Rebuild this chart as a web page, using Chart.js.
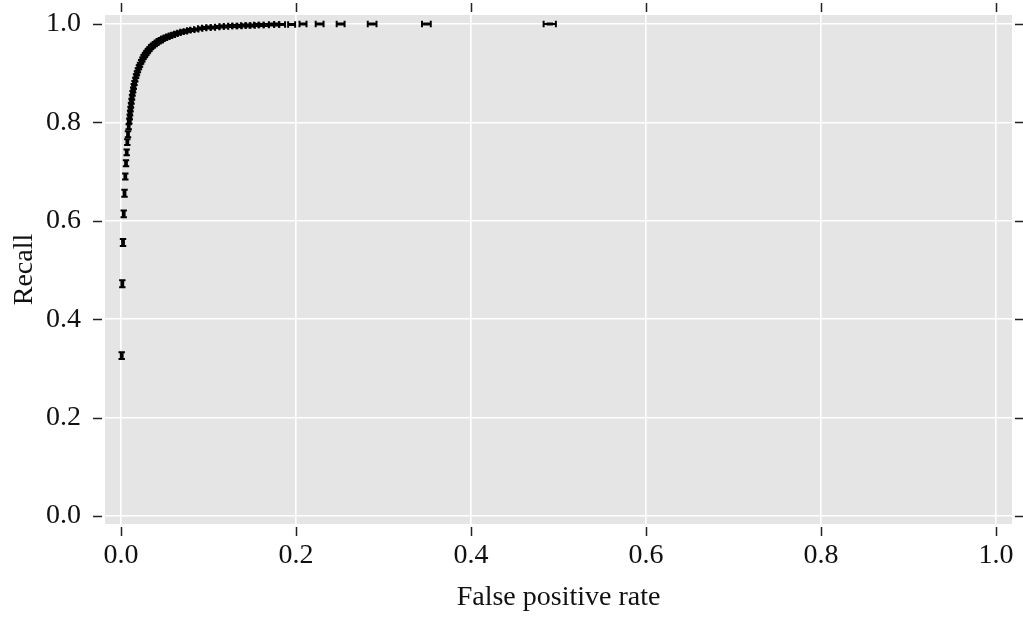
<!DOCTYPE html>
<html>
<head>
<meta charset="utf-8">
<script src="https://cdn.jsdelivr.net/npm/chart.js@4"></script>
<style>
  html, body { margin: 0; padding: 0; background: #fff; }
</style>
</head>
<body>
<canvas id="roc" width="1023" height="619"></canvas>
<script>
// tick labels
const xTicks = [0, 0.2, 0.4, 0.6, 0.8, 1.0];
const yTicks = [0, 0.2, 0.4, 0.6, 0.8, 1.0];

// ROC points (false positive rate, recall)
const fpr = [
  0.0008, 0.0015, 0.0023, 0.0031, 0.0040, 0.0049, 0.0057, 0.0065, 0.0072, 0.0080, 0.0088,
  0.0095, 0.0100, 0.0104, 0.0109, 0.0114, 0.0120, 0.0126, 0.0132, 0.0139, 0.0146,
  0.0154, 0.0163, 0.0172, 0.0182, 0.0193, 0.0205, 0.0217, 0.0230, 0.0244, 0.0258,
  0.0274, 0.0290, 0.0307, 0.0325, 0.0344, 0.0364, 0.0385, 0.0407, 0.0430, 0.0455,
  0.0480, 0.0507, 0.0535, 0.0565, 0.0596, 0.0628, 0.0662, 0.0698, 0.0735, 0.0775,
  0.0815, 0.0860, 0.0905, 0.0950, 0.1000, 0.1050, 0.1100, 0.1150, 0.1200, 0.1250,
  0.1300, 0.1350, 0.1400, 0.1450, 0.1500, 0.1550, 0.1600, 0.1660, 0.1720, 0.1780,
  0.1840, 0.1950, 0.2080, 0.2270, 0.2510, 0.2870, 0.3490, 0.4900
];
const recall = [
  0.326, 0.472, 0.556, 0.614, 0.656, 0.690, 0.717, 0.739, 0.760, 0.776, 0.791,
  0.803, 0.811, 0.819, 0.827, 0.835, 0.843, 0.851, 0.859, 0.866, 0.873,
  0.880, 0.887, 0.894, 0.900, 0.906, 0.912, 0.917, 0.923, 0.928, 0.933,
  0.937, 0.941, 0.945, 0.949, 0.953, 0.956, 0.959, 0.962, 0.965, 0.967,
  0.970, 0.972, 0.974, 0.976, 0.978, 0.980, 0.982, 0.984, 0.985, 0.987,
  0.988, 0.989, 0.991, 0.992, 0.993, 0.993, 0.994, 0.995, 0.995, 0.996,
  0.996, 0.996, 0.997, 0.997, 0.997, 0.998, 0.998, 0.998, 0.999, 0.999,
  0.999, 0.999, 1.000, 1.000, 1.000, 1.000, 1.000, 1.000
];
// half widths of the error bars
const fprErr = [
  0.001, 0.001, 0.001, 0.001, 0.001, 0.001, 0.001, 0.001, 0.001, 0.001, 0.001,
  0.0015, 0.0015, 0.0015, 0.0015, 0.0015, 0.0015, 0.0015, 0.0015, 0.0015, 0.0015,
  0.0015, 0.0015, 0.0015, 0.0015, 0.0015, 0.0015, 0.0015, 0.0015, 0.0015, 0.0015,
  0.002, 0.002, 0.002, 0.002, 0.002, 0.002, 0.002, 0.002, 0.002, 0.002,
  0.002, 0.002, 0.002, 0.002, 0.002, 0.002, 0.002, 0.002, 0.002, 0.002,
  0.0025, 0.0025, 0.0025, 0.0025, 0.0025, 0.0025, 0.0025, 0.0025, 0.0025, 0.0025,
  0.003, 0.003, 0.003, 0.003, 0.003, 0.003, 0.003, 0.003, 0.003, 0.003,
  0.0035, 0.004, 0.004, 0.0045, 0.0045, 0.005, 0.005, 0.007
];
const recallErr = [
  0.007, 0.007, 0.007, 0.007, 0.007, 0.006, 0.006, 0.006, 0.006, 0.006, 0.005,
  0.005, 0.005, 0.005, 0.005, 0.005, 0.005, 0.005, 0.005, 0.005, 0.005,
  0.004, 0.004, 0.004, 0.004, 0.004, 0.004, 0.004, 0.004, 0.004, 0.004,
  0.004, 0.004, 0.004, 0.004, 0.004, 0.004, 0.004, 0.004, 0.004, 0.004,
  0.003, 0.003, 0.003, 0.003, 0.003, 0.003, 0.003, 0.003, 0.003, 0.003,
  0.002, 0.002, 0.002, 0.002, 0.002, 0.002, 0.002, 0.002, 0.002, 0.002,
  0.002, 0.002, 0.002, 0.002, 0.002, 0.002, 0.002, 0.002, 0.002, 0.002,
  0.001, 0.001, 0.001, 0.001, 0.001, 0.001, 0.001, 0.001
];

Chart.defaults.font.family = "'Liberation Serif', 'DejaVu Serif', serif";
Chart.defaults.font.size = 28;
Chart.defaults.color = '#111';

const points = fpr.map((v, i) => ({ x: v, y: recall[i], ex: fprErr[i], ey: recallErr[i] }));

// grey panel behind the data
const panelBg = {
  id: 'panelBg',
  beforeDraw(chart) {
    const { ctx, chartArea: a } = chart;
    ctx.save();
    ctx.fillStyle = '#e5e5e5';
    ctx.fillRect(a.left, a.top, a.right - a.left, a.bottom - a.top);
    ctx.restore();
  }
};

// each point is drawn as a horizontal + vertical error bar with caps
const errorBars = {
  id: 'errorBars',
  afterDatasetsDraw(chart) {
    const { ctx } = chart;
    const xs = chart.scales.x, ys = chart.scales.y;
    const cap = 3.2;
    ctx.save();
    ctx.strokeStyle = '#000';
    ctx.lineWidth = 2;
    chart.data.datasets[0].data.forEach(p => {
      const cx = xs.getPixelForValue(p.x), cy = ys.getPixelForValue(p.y);
      const x0 = xs.getPixelForValue(p.x - p.ex), x1 = xs.getPixelForValue(p.x + p.ex);
      const y0 = ys.getPixelForValue(p.y - p.ey), y1 = ys.getPixelForValue(p.y + p.ey);
      ctx.beginPath();
      ctx.moveTo(x0, cy); ctx.lineTo(x1, cy);
      ctx.moveTo(x0, cy - cap); ctx.lineTo(x0, cy + cap);
      ctx.moveTo(x1, cy - cap); ctx.lineTo(x1, cy + cap);
      ctx.moveTo(cx, y0); ctx.lineTo(cx, y1);
      ctx.moveTo(cx - cap, y0); ctx.lineTo(cx + cap, y0);
      ctx.moveTo(cx - cap, y1); ctx.lineTo(cx + cap, y1);
      ctx.stroke();
    });
    ctx.restore();
  }
};

// tick marks on all four sides, set off a little from the panel
const outerTicks = {
  id: 'outerTicks',
  afterDraw(chart) {
    const { ctx, chartArea: a } = chart;
    const xs = chart.scales.x, ys = chart.scales.y;
    ctx.save();
    ctx.strokeStyle = '#222';
    ctx.lineWidth = 1.5;
    ctx.beginPath();
    xTicks.forEach(v => {
      const px = Math.round(xs.getPixelForValue(v)) + 0.5;
      ctx.moveTo(px, a.bottom + 3); ctx.lineTo(px, a.bottom + 12);
      ctx.moveTo(px, a.top - 3); ctx.lineTo(px, a.top - 12);
    });
    yTicks.forEach(v => {
      const py = Math.round(ys.getPixelForValue(v)) + 0.5;
      ctx.moveTo(a.left - 3, py); ctx.lineTo(a.left - 12, py);
      ctx.moveTo(a.right + 3, py); ctx.lineTo(a.right + 11, py);
    });
    ctx.stroke();
    ctx.restore();
  }
};

new Chart(document.getElementById('roc'), {
  type: 'scatter',
  data: {
    datasets: [{
      data: points,
      pointRadius: 0,
      pointHoverRadius: 0,
      borderColor: '#000',
      backgroundColor: '#000'
    }]
  },
  options: {
    responsive: false,
    animation: false,
    devicePixelRatio: 1,
    layout: { padding: { top: 15, right: 11, left: 0, bottom: 0 } },
    plugins: {
      legend: { display: false },
      tooltip: { enabled: false }
    },
    scales: {
      x: {
        type: 'linear',
        min: -0.0183,
        max: 1.0183,
        afterBuildTicks: s => { s.ticks = xTicks.map(v => ({ value: v })); },
        afterFit: s => { s.height = 95; s.paddingLeft = 0; s.paddingRight = 0; },
        ticks: { callback: v => v.toFixed(1), padding: 15, maxRotation: 0, autoSkip: false },
        grid: { color: '#fff', lineWidth: 1.6, drawTicks: false },
        border: { display: false },
        title: { display: true, text: 'False positive rate', padding: { top: 0, bottom: 5 } }
      },
      y: {
        type: 'linear',
        min: -0.0163,
        max: 1.0183,
        afterBuildTicks: s => { s.ticks = yTicks.map(v => ({ value: v })); },
        afterFit: s => { s.width = 105; s.paddingTop = 0; s.paddingBottom = 0; },
        ticks: { callback: v => v.toFixed(1), padding: 24, autoSkip: false },
        grid: { color: '#fff', lineWidth: 1.6, drawTicks: false },
        border: { display: false },
        title: { display: true, text: 'Recall', padding: { top: 8, bottom: 0 } }
      }
    }
  },
  plugins: [panelBg, errorBars, outerTicks]
});
</script>
</body>
</html>
